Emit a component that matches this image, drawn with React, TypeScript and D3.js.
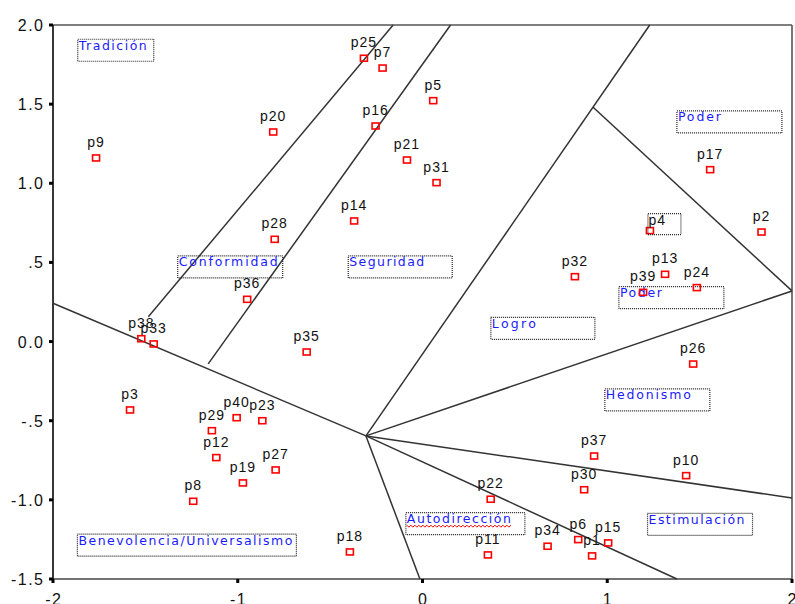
import React, { useEffect, useRef } from 'react';
import * as d3 from 'd3';

// Point labels and their coordinates (dimension 1, dimension 2)
const pointNames = ['p1', 'p2', 'p3', 'p4', 'p5', 'p6', 'p7', 'p8', 'p9', 'p10',
  'p11', 'p12', 'p13', 'p14', 'p15', 'p16', 'p17', 'p18', 'p19', 'p20',
  'p21', 'p22', 'p23', 'p24', 'p25', 'p26', 'p27', 'p28', 'p29', 'p30',
  'p31', 'p32', 'p33', 'p34', 'p35', 'p36', 'p37', 'p38', 'p39', 'p40'];
const pointX = [0.918, 1.835, -1.583, 1.231, 0.058, 0.843, -0.216, -1.241, -1.767, 1.427,
  0.354, -1.116, 1.313, -0.37, 1.005, -0.254, 1.557, -0.393, -0.972, -0.808,
  -0.084, 0.369, -0.867, 1.485, -0.317, 1.465, -0.795, -0.8, -1.14, 0.875,
  0.076, 0.825, -1.455, 0.677, -0.627, -0.949, 0.929, -1.522, 1.194, -1.006];
const pointY = [-1.354, 0.692, -0.432, 0.701, 1.522, -1.251, 1.728, -1.009, 1.16, -0.847,
  -1.348, -0.733, 0.425, 0.762, -1.272, 1.362, 1.086, -1.329, -0.893, 1.324,
  1.147, -0.996, -0.5, 0.341, 1.79, -0.142, -0.811, 0.646, -0.563, -0.936,
  1.004, 0.41, -0.015, -1.293, -0.066, 0.267, -0.723, 0.018, 0.311, -0.481];

// Partition lines between value regions
const segStart: [number, number][] = [
  [-2, 0.242], [-0.306, -0.596], [-0.306, -0.596], [-0.306, -0.596],
  [-0.306, -0.596], [-0.306, -0.596], [0.922, 1.482], [-0.159, 2], [0.152, 2]];
const segEnd: [number, number][] = [
  [-0.306, -0.596], [-0.014, -1.5], [1.23, 2], [2, 0.32],
  [2, -0.988], [1.377, -1.5], [2, 0.32], [-1.484, 0.157], [-1.16, -0.141]];

// Region labels (top-left corner of their boxes)
const regionNames = ['Tradición', 'Conformidad', 'Seguridad', 'Logro', 'Poder', 'Poder',
  'Hedonismo', 'Estimulación', 'Autodirección', 'Benevolencia/Universalismo'];
const regionX = [-1.866, -1.325, -0.402, 0.37, 1.377, 1.063, 0.987, 1.218, -0.09, -1.868];
const regionY = [1.91, 0.541, 0.541, 0.153, 1.457, 0.347, -0.299, -1.085, -1.081, -1.217];

const yTicks = [2, 1.5, 1, 0.5, 0, -0.5, -1, -1.5];
const yTickLabels = ['2.0', '1.5', '1.0', '.5', '0.0', '-.5', '-1.0', '-1.5'];
const xTicks = [-2, -1, 0, 1, 2];
const xTickLabels = ['-2', '-1', '0', '1', '2'];

const W = 795;
const H = 604;

export default function App() {
  const svgRef = useRef<SVGSVGElement>(null);

  useEffect(() => {
    if (!svgRef.current) return;
    const svg = d3.select(svgRef.current);
    svg.selectAll('*').remove();

    const x = d3.scaleLinear().domain([-2, 2]).range([53, 792]);
    const y = d3.scaleLinear().domain([-1.5, 2]).range([579, 25]);

    // frame
    svg.append('line').attr('x1', x(-2)).attr('x2', x(2)).attr('y1', y(2)).attr('y2', y(2))
      .attr('stroke', '#555').attr('stroke-width', 1.6);
    svg.append('line').attr('x1', x(2)).attr('x2', x(2)).attr('y1', y(2)).attr('y2', y(-1.5))
      .attr('stroke', '#555').attr('stroke-width', 1.6);
    svg.append('line').attr('x1', x(-2)).attr('x2', x(2)).attr('y1', y(-1.5)).attr('y2', y(-1.5))
      .attr('stroke', '#444').attr('stroke-width', 1.6);
    svg.append('line').attr('x1', x(-2)).attr('x2', x(-2)).attr('y1', y(2)).attr('y2', y(-1.5))
      .attr('stroke', '#222').attr('stroke-width', 1.8);

    // ticks
    yTicks.forEach((t, i) => {
      svg.append('line').attr('x1', x(-2) - 4).attr('x2', x(-2)).attr('y1', y(t)).attr('y2', y(t))
        .attr('stroke', '#000').attr('stroke-width', 3);
      svg.append('text').attr('x', 44.5).attr('y', y(t) + 6)
        .attr('text-anchor', 'end').attr('font-family', 'Arial, "Liberation Sans", sans-serif')
        .attr('font-size', 16).attr('letter-spacing', 1.5).attr('fill', '#111')
        .text(yTickLabels[i]);
    });
    xTicks.forEach((t, i) => {
      svg.append('line').attr('x1', x(t)).attr('x2', x(t)).attr('y1', y(-1.5)).attr('y2', y(-1.5) + 4)
        .attr('stroke', '#000').attr('stroke-width', 3);
      svg.append('text').attr('x', x(t) + 0.8).attr('y', 605)
        .attr('text-anchor', 'middle').attr('font-family', 'Arial, "Liberation Sans", sans-serif')
        .attr('font-size', 16).attr('letter-spacing', 1.5).attr('fill', '#111')
        .text(xTickLabels[i]);
    });

    // partition lines
    segStart.forEach((s, i) => {
      const e = segEnd[i];
      svg.append('line').attr('x1', x(s[0])).attr('y1', y(s[1]))
        .attr('x2', x(e[0])).attr('y2', y(e[1]))
        .attr('stroke', '#333').attr('stroke-width', 1.5);
    });

    // region labels in dotted boxes
    const boxW = [76, 105, 104, 104, 105, 105, 105, 105, 119, 219];
    const textW = [68, 99, 75, 44, 43, 42, 85, 96, 104, 214];
    regionNames.forEach((name, i) => {
      const bx = x(regionX[i]);
      const by = y(regionY[i]);
      svg.append('rect').attr('x', bx).attr('y', by).attr('width', boxW[i]).attr('height', 22)
        .attr('fill', 'none').attr('stroke', '#222').attr('stroke-width', 1.2)
        .attr('stroke-dasharray', '1 1');
      svg.append('text').attr('x', bx + 1).attr('y', by + 10.5)
        .attr('font-family', '"DejaVu Sans", Verdana, sans-serif').attr('font-size', 12.5)
        .attr('fill', '#1a1aff')
        .attr('textLength', textW[i]).attr('lengthAdjust', 'spacing')
        .text(name);
      if (name === 'Autodirección') {
        const wave = d3.range(0, textW[i] + 1, 2)
          .map((d, k) => [bx + 1 + d, by + 12.5 + (k % 2 === 0 ? 0 : 2)] as [number, number]);
        svg.append('path').attr('d', d3.line()(wave) as string)
          .attr('fill', 'none').attr('stroke', '#e00').attr('stroke-width', 1);
      }
    });

    // points
    pointNames.forEach((name, i) => {
      const px = x(pointX[i]);
      const py = y(pointY[i]);
      svg.append('rect').attr('x', px - 3.5).attr('y', py - 3).attr('width', 7).attr('height', 6)
        .attr('fill', 'none').attr('stroke', '#f00').attr('stroke-width', 1.6);
      if (name === 'p4') {
        svg.append('rect').attr('x', px - 2).attr('y', py - 17).attr('width', 33).attr('height', 21)
          .attr('fill', 'none').attr('stroke', '#222').attr('stroke-width', 1.2)
          .attr('stroke-dasharray', '1 1');
        svg.append('text').attr('x', px - 1.5).attr('y', py - 5.5)
          .attr('font-family', 'Arial, "Liberation Sans", sans-serif').attr('font-size', 14)
          .attr('letter-spacing', 1).attr('fill', '#111').text(name);
      } else {
        svg.append('text').attr('x', px).attr('y', py - 11)
          .attr('text-anchor', 'middle')
          .attr('font-family', 'Arial, "Liberation Sans", sans-serif').attr('font-size', 14)
          .attr('letter-spacing', 1).attr('fill', '#111').text(name);
      }
    });
  }, []);

  return (
    <svg ref={svgRef} width={W} height={H}
      style={{ position: 'absolute', left: 0, top: 0, background: '#fff' }} />
  );
}
